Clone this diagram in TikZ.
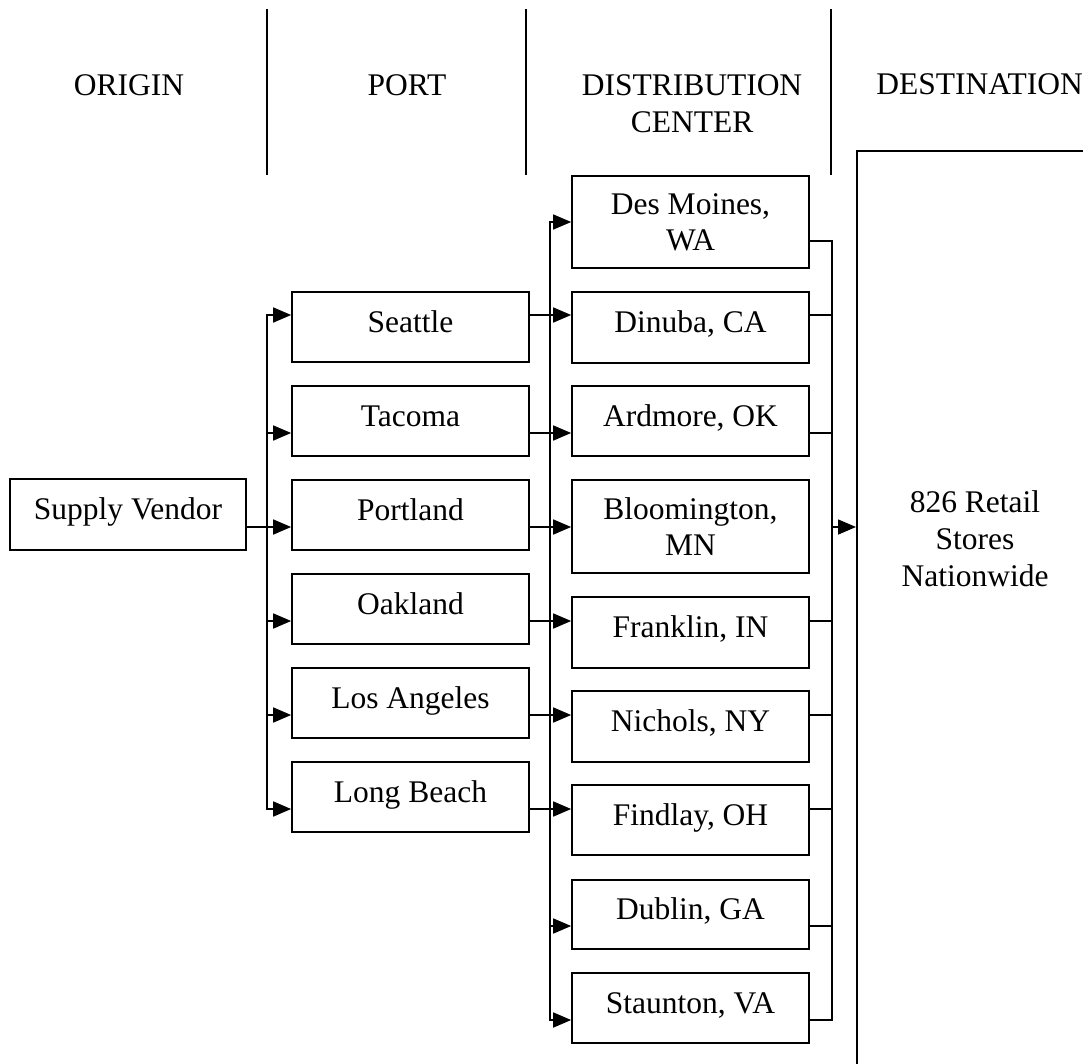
\documentclass[tikz,border=0pt]{standalone}
\usepackage{fontspec}
\setmainfont{Liberation Serif}
\usetikzlibrary{arrows.meta}
\begin{document}
\begin{tikzpicture}[x=1pt,y=-1pt,
  every node/.style={font=\fontsize{31.5}{37}\selectfont, inner sep=0pt},
  box/.style={draw, line width=1.7pt, minimum width=237pt, minimum height=70pt, text height=22pt, text depth=12pt},
  boxtwo/.style={draw, line width=1.7pt, minimum width=237pt, align=center, font=\fontsize{31.5}{36}\selectfont},
  conn/.style={line width=1.6pt},
  arr/.style={conn, -{Triangle[length=18pt,width=15pt]}},
  sepline/.style={line width=1.6pt},
  hdr/.style={anchor=base}]
\useasboundingbox (0,0) rectangle (1083,1063);
\clip (0,0) rectangle (1083,1063);

% header
\node[hdr] (hOrigin) at (129,95) {ORIGIN};
\node[hdr] (hPort) at (407,95) {PORT};
\node[align=center] (hDC) at (692,103.5) {DISTRIBUTION\\CENTER};
\node[hdr] (hDest) at (979.5,94) {DESTINATION};
\draw[sepline] (267,9) -- (267,175);
\draw[sepline] (526,9) -- (526,175);
\draw[sepline] (831,9) -- (831,175);

% origin
\node[box, minimum width=236pt, minimum height=71pt] (sv) at (128,514.5) {Supply Vendor};

% ports
\node[box] (sea) at (410.5,327) {Seattle};
\node[box] (tac) at (410.5,421) {Tacoma};
\node[box] (por) at (410.5,515) {Portland};
\node[box] (oak) at (410.5,609) {Oakland};
\node[box] (la)  at (410.5,703) {Los Angeles};
\node[box] (lbe) at (410.5,797) {Long Beach};

% distribution centers
\node[boxtwo, minimum height=92pt] (des) at (690.5,222) {Des Moines,\\WA};
\node[box, minimum height=71pt] (din) at (690.5,327.5) {Dinuba, CA};
\node[box] (ard) at (690.5,421) {Ardmore, OK};
\node[boxtwo, minimum height=93pt] (blo) at (690.5,526.5) {Bloomington,\\MN};
\node[box, minimum height=71pt] (fra) at (690.5,632.5) {Franklin, IN};
\node[box, minimum height=71pt] (nic) at (690.5,726.5) {Nichols, NY};
\node[box] (fin) at (690.5,820) {Findlay, OH};
\node[box, minimum height=69pt] (dub) at (690.5,914.5) {Dublin, GA};
\node[box] (sta) at (690.5,1008) {Staunton, VA};

% destination
\node[draw, line width=1.7pt, minimum width=300pt, minimum height=1000pt, anchor=north west] (dest) at (856,150) {};
\node[align=center] (destt) at (975,539) {826 Retail\\Stores\\Nationwide};

% rows and buses
\coordinate (rA) at (0,222);
\coordinate (rB) at (0,241);
\coordinate (r1) at (0,315);
\coordinate (r2) at (0,433);
\coordinate (r3) at (0,527);
\coordinate (r4) at (0,621);
\coordinate (r5) at (0,715);
\coordinate (r6) at (0,809);
\coordinate (r7) at (0,926);
\coordinate (r8) at (0,1020);
\coordinate (lb) at (267,0);
\coordinate (mb) at (550,0);
\coordinate (rb) at (832,0);

% origin -> ports
\draw[arr] (sv.east |- r3) -- (por.west |- r3);
\draw[arr] (lb |- r3) -- (lb |- r1) -- (sea.west |- r1);
\draw[arr] (lb |- r3) -- (lb |- r6) -- (lbe.west |- r6);
\draw[arr] (lb |- r2) -- (tac.west |- r2);
\draw[arr] (lb |- r4) -- (oak.west |- r4);
\draw[arr] (lb |- r5) -- (la.west |- r5);

% ports -> distribution centers
\draw[arr] (sea.east |- r1) -- (din.west |- r1);
\draw[arr] (tac.east |- r2) -- (ard.west |- r2);
\draw[arr] (por.east |- r3) -- (blo.west |- r3);
\draw[arr] (oak.east |- r4) -- (fra.west |- r4);
\draw[arr] (la.east |- r5) -- (nic.west |- r5);
\draw[arr] (lbe.east |- r6) -- (fin.west |- r6);
\draw[arr] (mb |- r7) -- (mb |- rA) -- (des.west |- rA);
\draw[arr] (mb |- r7) -- (mb |- r8) -- (sta.west |- r8);
\draw[arr] (mb |- r7) -- (dub.west |- r7);

% distribution centers -> destination
\draw[conn] (des.east |- rB) -- (rb |- rB) -- (rb |- r8) -- (sta.east |- r8);
\draw[conn] (din.east |- r1) -- (rb |- r1);
\draw[conn] (ard.east |- r2) -- (rb |- r2);
\draw[conn] (fra.east |- r4) -- (rb |- r4);
\draw[conn] (nic.east |- r5) -- (rb |- r5);
\draw[conn] (fin.east |- r6) -- (rb |- r6);
\draw[conn] (dub.east |- r7) -- (rb |- r7);
\draw[arr] (rb |- r3) -- (dest.west |- r3);
\end{tikzpicture}
\end{document}
